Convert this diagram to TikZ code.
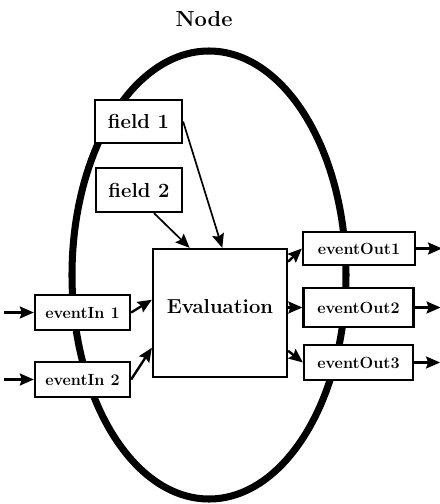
\documentclass[tikz,border=0pt]{standalone}
\usepackage{tikz}
\usetikzlibrary{arrows.meta,positioning,calc}

\begin{document}
\begin{tikzpicture}[
    field/.style={rectangle, draw, fill=white, line width=1.6pt, minimum width=2.175cm, minimum height=1.075cm, inner sep=0pt, font=\Large\bfseries},
    event/.style={rectangle, draw, fill=white, line width=1.6pt, inner sep=0pt, font=\fontsize{11.5}{13}\selectfont\bfseries},
    arrow/.style={-{Stealth[length=10pt,width=8.5pt,inset=1.5pt]}, line width=1.2pt},
    port/.style={arrow, line width=1.7pt}
]
    \useasboundingbox (-5.225,-5.725) rectangle (5.775,6.875);

    % The node itself
    \draw[line width=5pt] (0,0) ellipse (3.425 and 5.6);
    \node[font=\fontsize{15.5}{18}\selectfont\bfseries] (title) at (-0.125,6.4) {Node};

    % Fields
    \node[field] (field1) at (-1.7625,3.8375) {field 1};
    \node[field, minimum width=2.15cm, minimum height=1.1cm] (field2) at (-1.75,2.125) {field 2};

    % Evaluation
    \node[rectangle, draw, fill=white, line width=1.6pt, minimum width=3.35cm, minimum height=3.2cm, inner sep=0pt, text depth=0.35cm, font=\Large\bfseries] (eval) at (0.275,-0.95) {Evaluation};

    % Incoming events
    \node[event, minimum width=2.375cm, minimum height=0.875cm] (in1) at (-3.1625,-0.9375) {eventIn 1};
    \node[event, minimum width=2.375cm, minimum height=0.875cm] (in2) at (-3.1625,-2.6125) {eventIn 2};

    % Outgoing events
    \node[event, minimum width=2.8cm, minimum height=0.825cm] (out1) at (3.75,0.6625) {eventOut1};
    \node[event, minimum width=2.75cm, minimum height=0.975cm] (out2) at (3.7375,-0.8125) {eventOut2};
    \node[event, minimum width=2.725cm, minimum height=0.875cm] (out3) at (3.7375,-2.1875) {eventOut3};

    \coordinate[left=0.75cm of in1] (src1);
    \coordinate[left=0.75cm of in2] (src2);
    \coordinate[right=0.65cm of out1] (sink1);
    \coordinate[right=0.65cm of out2] (sink2);
    \coordinate[right=0.65cm of out3] (sink3);

    % Arrows into the evaluation
    \draw[arrow] (field1.east) -- (eval.88);
    \draw[arrow] (field2.-57) -- (eval.115);
    \draw[port] (src1) -- (in1);
    \draw[port] (src2) -- (in2);
    \draw[port] (in1.east) -- (eval.169);
    \draw[port] (in2.east) -- (eval.207);

    % Arrows out of the evaluation
    \draw[port] (eval.37) -- (out1.west);
    \draw[port] (eval.east |- out2.west) -- (out2.west);
    \draw[port] (eval.-29) -- (out3.west);
    \draw[port] (out1) -- (sink1);
    \draw[port] (out2) -- (sink2);
    \draw[port] (out3) -- (sink3);
\end{tikzpicture}
\end{document}
